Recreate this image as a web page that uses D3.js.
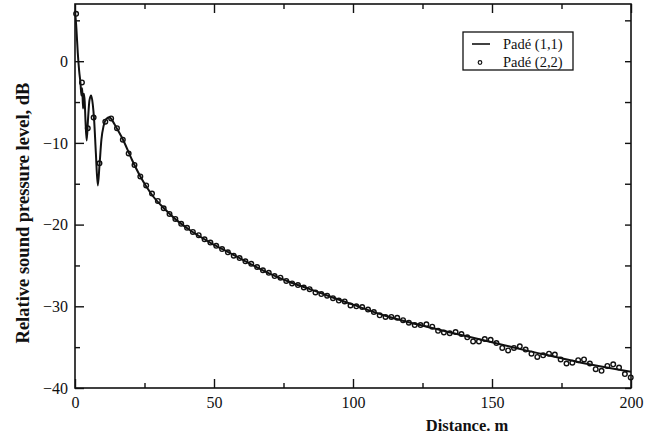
<!DOCTYPE html>
<html><head><meta charset="utf-8">
<script src="https://cdn.jsdelivr.net/npm/d3@7"></script>
<style>
body{margin:0;background:#fff;}
svg{display:block;}
</style></head>
<body>
<svg id="c" width="653" height="438"></svg>
<script>
// Padé (1,1) solid line
const lineDist = [0,0.5,1.0,1.5,2.0,2.3,2.6,2.9,3.2,3.5,3.8,4.2,4.7,5.2,5.8,6.4,6.9,7.5,8.2,8.8,9.5,10.3,11.2,12.4,13.5,15,17.4,20.4,23.5,25.6,28,32,36,41,48.6,55.8,63,70,77,84.5,91.7,100,111,123,135,150,161,173,185,200];
const lineDb = [6.2,4.0,1.0,-1.2,-2.8,-4.2,-3.3,-5.8,-4.0,-5.0,-7.5,-9.7,-7.0,-4.8,-4.2,-5.3,-7.3,-11.2,-15.2,-12.8,-9.6,-7.9,-7.1,-6.85,-7.3,-8.2,-9.7,-12.0,-14.1,-15.3,-16.5,-18.0,-19.3,-20.6,-22.2,-23.5,-24.8,-26.0,-27.0,-27.9,-28.8,-29.8,-31.1,-32.2,-33.2,-34.4,-35.3,-36.2,-37.1,-38.0];

// Padé (2,2) circles
const padeDist = [0.4,2.5,4.6,6.7,8.8,10.9,13.0,15.1,17.2,19.3,21.4,23.5,25.6,27.7,29.8,31.9,34.0,36.1,38.2,40.3,42.4,44.5,46.6,48.7,50.8,52.9,55.0,57.1,59.2,61.3,63.4,65.5,67.6,69.7,71.8,73.9,76.0,78.1,80.2,82.3,84.4,86.5,88.6,90.7,92.8,94.9,97.0,99.1,101.2,103.3,105.4,107.5,109.6,111.7,113.8,115.9,118.0,120.1,122.2,124.3,126.4,128.5,130.6,132.7,134.8,136.9,139.0,141.1,143.2,145.3,147.4,149.5,151.6,153.7,155.8,157.9,160.0,162.1,164.2,166.3,168.4,170.5,172.6,174.7,176.8,178.9,181.0,183.1,185.2,187.3,189.4,191.5,193.6,195.7,197.8,199.9];
const padeDb = [5.8,-2.6,-8.2,-6.9,-12.5,-7.4,-7.0,-8.2,-9.6,-11.3,-12.7,-14.1,-15.2,-16.2,-17.1,-18.0,-18.7,-19.3,-19.9,-20.4,-20.9,-21.3,-21.8,-22.2,-22.6,-23.0,-23.4,-23.8,-24.1,-24.5,-24.8,-25.2,-25.6,-25.9,-26.3,-26.5,-26.9,-27.2,-27.4,-27.7,-27.9,-28.3,-28.5,-28.7,-29.0,-29.3,-29.4,-29.9,-30.0,-30.1,-30.4,-30.7,-31.1,-31.3,-31.3,-31.4,-31.7,-32.0,-32.3,-32.3,-32.2,-32.5,-33.0,-33.2,-33.3,-33.15,-33.4,-33.8,-34.3,-34.3,-34.0,-34.1,-34.5,-35.1,-35.4,-35.1,-34.9,-35.3,-35.8,-36.2,-36.0,-35.8,-35.9,-36.5,-37.0,-36.9,-36.6,-36.5,-37.0,-37.7,-37.9,-37.3,-37.1,-37.5,-38.3,-38.7];

const xMajor = [0,50,100,150,200];
const xMinor = [25,75,125,175];
const yMajor = [-40,-30,-20,-10,0];
const yMinor = [-35,-25,-15,-5,5];
const legendLabels = ["Padé (1,1)","Padé (2,2)"];
const xTitle = "Distance. m";
const yTitle = "Relative sound pressure level, dB";

const FONT = "'Liberation Serif','Times New Roman',serif";
const svg = d3.select("#c");
const L=75, R=631, T=4, B=388;
const x = d3.scaleLinear().domain([0,200]).range([L,R]);
const y = d3.scaleLinear().domain([-40,7]).range([B,T]);

svg.append("clipPath").attr("id","clip").append("rect")
  .attr("x",L).attr("y",T).attr("width",R-L).attr("height",B-T);

function styleAxis(g, labels){
  g.attr("font-family",null).attr("font-size",null);
  g.select(".domain").remove();
  g.selectAll(".tick line").attr("stroke","#111").attr("stroke-width",1.4);
  g.selectAll("text").style("font-family",FONT).style("font-size","16px").attr("fill","#111");
  if(!labels) g.selectAll("text").remove();
}
// bottom
svg.append("g").attr("transform",`translate(0,${B})`)
  .call(d3.axisBottom(x).tickValues(xMajor).tickSize(-9).tickPadding(9).tickFormat(d3.format("d")))
  .call(g=>styleAxis(g,true));
svg.append("g").attr("transform",`translate(0,${B})`)
  .call(d3.axisBottom(x).tickValues(xMinor).tickSize(-5))
  .call(g=>styleAxis(g,false));
// top
svg.append("g").attr("transform",`translate(0,${T})`)
  .call(d3.axisTop(x).tickValues(xMajor).tickSize(-9))
  .call(g=>styleAxis(g,false));
svg.append("g").attr("transform",`translate(0,${T})`)
  .call(d3.axisTop(x).tickValues(xMinor).tickSize(-5))
  .call(g=>styleAxis(g,false));
// left
svg.append("g").attr("transform",`translate(${L},0)`)
  .call(d3.axisLeft(y).tickValues(yMajor).tickSize(-9).tickPadding(7).tickFormat(d3.format("d")))
  .call(g=>styleAxis(g,true));
svg.append("g").attr("transform",`translate(${L},0)`)
  .call(d3.axisLeft(y).tickValues(yMinor).tickSize(-5))
  .call(g=>styleAxis(g,false));
// right
svg.append("g").attr("transform",`translate(${R},0)`)
  .call(d3.axisRight(y).tickValues(yMajor).tickSize(-6))
  .call(g=>styleAxis(g,false));
svg.append("g").attr("transform",`translate(${R},0)`)
  .call(d3.axisRight(y).tickValues(yMinor).tickSize(-6))
  .call(g=>styleAxis(g,false));

// frame
svg.append("rect").attr("x",L).attr("y",T).attr("width",R-L).attr("height",B-T)
  .attr("fill","none").attr("stroke","#111").attr("stroke-width",1.6);

// line
const lineData = lineDist.map((d,i)=>[d,lineDb[i]]);
svg.append("path").datum(lineData)
  .attr("clip-path","url(#clip)")
  .attr("fill","none").attr("stroke","#111").attr("stroke-width",2)
  .attr("d", d3.line().x(d=>x(d[0])).y(d=>y(d[1])).curve(d3.curveMonotoneX));

// circles
const pts = padeDist.map((d,i)=>[d,padeDb[i]]);
svg.append("g").selectAll("circle").data(pts).join("circle")
  .attr("cx",d=>x(d[0])).attr("cy",d=>y(d[1])).attr("r",2.3)
  .attr("fill","none").attr("stroke","#111").attr("stroke-width",1.4);

// legend
const lg = svg.append("g");
lg.append("rect").attr("x",463).attr("y",32).attr("width",110).attr("height",38)
  .attr("fill","#fff").attr("stroke","#111").attr("stroke-width",1.3);
lg.append("line").attr("x1",472).attr("x2",490).attr("y1",44).attr("y2",44)
  .attr("stroke","#111").attr("stroke-width",1.6);
lg.append("circle").attr("cx",480).attr("cy",62.5).attr("r",1.8)
  .attr("fill","none").attr("stroke","#111").attr("stroke-width",1.2);
lg.selectAll("text").data(legendLabels).join("text")
  .attr("x",503).attr("y",(d,i)=>49+i*18)
  .style("font-family",FONT).style("font-size","14.5px").attr("fill","#111").text(d=>d);

// titles
svg.append("text").attr("x",467).attr("y",431).attr("text-anchor","middle")
  .style("font-family",FONT).style("font-size","16.5px").style("font-weight","bold").attr("fill","#111").text(xTitle);
svg.append("text").attr("transform","translate(29,213) rotate(-90)").attr("text-anchor","middle")
  .style("font-family",FONT).style("font-size","18.5px").style("font-weight","bold").attr("fill","#111").text(yTitle);
</script>
</body></html>
